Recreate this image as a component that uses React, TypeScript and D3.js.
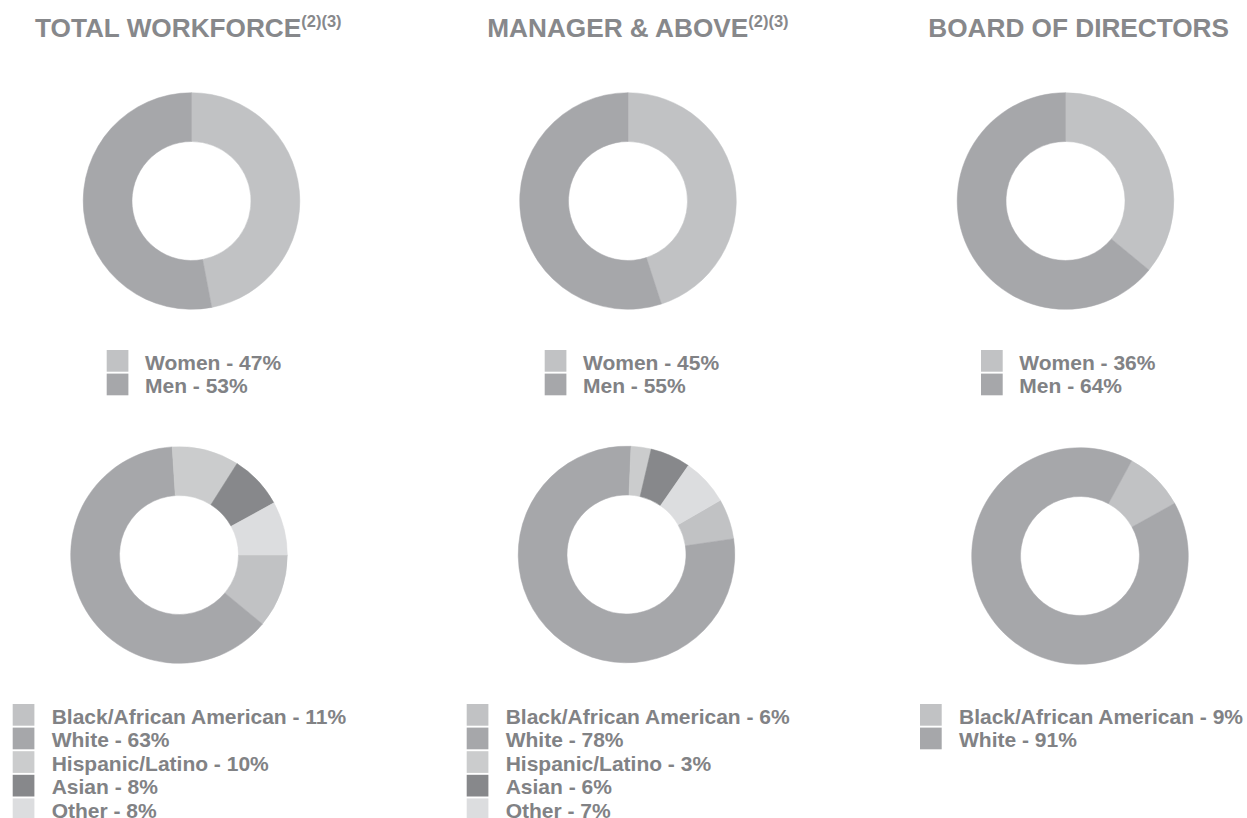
import React, { useEffect, useRef } from "react";
import * as d3 from "d3";

const W = 1247;
const H = 818;

// ---- data ----
const panelTitles = ["TOTAL WORKFORCE", "MANAGER & ABOVE", "BOARD OF DIRECTORS"];
const panelNotes = ["(2)(3)", "(2)(3)", ""];

const genderCategories = ["Women", "Men"];
const genderTotal = [47, 53];
const genderManager = [45, 55];
const genderBoard = [36, 64];

const raceCategories = ["Black/African American", "White", "Hispanic/Latino", "Asian", "Other"];
const raceTotal = [11, 63, 10, 8, 8];
const raceManager = [6, 78, 3, 6, 7];
const raceBoard = [9, 91];

// ---- styles ----
const genderColors = ["#c1c2c4", "#a6a7aa"];
const raceColors = ["#c1c2c4", "#a6a7aa", "#cbcccd", "#87888b", "#dcdddf"];
const TEXT = "#818285";
const TITLE = "#87888b";
const FONT = "'Liberation Sans', Arial, Helvetica, sans-serif";

const layout = [
  {
    titleX: 35,
    gender: { cx: 191.5, cy: 201, start: 0, sqX: 106.7, txX: 145 },
    race: { cx: 179, cy: 555, start: 90, sqX: 12.7, txX: 51.7 },
  },
  {
    titleX: 487.3,
    gender: { cx: 628, cy: 201, start: 0, sqX: 544.7, txX: 583 },
    race: { cx: 626.5, cy: 554.5, start: 60, sqX: 466.7, txX: 505.7 },
  },
  {
    titleX: 928.3,
    gender: { cx: 1065.5, cy: 201, start: 0, sqX: 981, txX: 1019.3 },
    race: { cx: 1080, cy: 556, start: 28.5, sqX: 920, txX: 959 },
  },
];

const genderSeries = [genderTotal, genderManager, genderBoard];
const raceSeries = [raceTotal, raceManager, raceBoard];

export default function App() {
  const ref = useRef<SVGSVGElement>(null);

  useEffect(() => {
    const svg = d3.select(ref.current);
    svg.selectAll("*").remove();
    svg.append("rect").attr("width", W).attr("height", H).attr("fill", "#fff");

    const outerR = 108.3;
    const innerR = 59.5;
    const arc = d3.arc<d3.PieArcDatum<number>>().innerRadius(innerR).outerRadius(outerR);

    const drawDonut = (values: number[], colors: string[], cx: number, cy: number, startDeg: number) => {
      const start = (startDeg * Math.PI) / 180;
      const pie = d3
        .pie<number>()
        .sort(null)
        .value((d) => d)
        .startAngle(start)
        .endAngle(start + 2 * Math.PI);
      const g = svg.append("g").attr("transform", `translate(${cx},${cy})`);
      g.selectAll("path")
        .data(pie(values))
        .enter()
        .append("path")
        .attr("d", arc as any)
        .attr("fill", (_d, i) => colors[i])
        .attr("stroke", (_d, i) => colors[i])
        .attr("stroke-width", 0.5);
    };

    const drawLegend = (
      cats: string[],
      values: number[],
      colors: string[],
      sqX: number,
      txX: number,
      top: number
    ) => {
      const pitch = 23.6;
      const sq = 21.7;
      const g = svg.append("g");
      values.forEach((v, i) => {
        const y = top + i * pitch;
        g.append("rect")
          .attr("x", sqX)
          .attr("y", y)
          .attr("width", sq)
          .attr("height", sq)
          .attr("fill", colors[i]);
        g.append("text")
          .attr("x", txX)
          .attr("y", y + 19.6)
          .attr("font-family", FONT)
          .attr("font-weight", "bold")
          .attr("font-size", 21)
          .attr("fill", TEXT)
          .text(`${cats[i]} - ${v}%`);
      });
    };

    layout.forEach((p, k) => {
      const t = svg
        .append("text")
        .attr("x", p.titleX)
        .attr("y", 37)
        .attr("font-family", FONT)
        .attr("font-weight", "bold")
        .attr("font-size", 26.2)
        .attr("fill", TITLE);
      t.append("tspan").text(panelTitles[k]);
      if (panelNotes[k]) {
        t.append("tspan")
          .attr("dy", -10)
          .attr("font-size", 16.5)
          .attr("font-weight", "bold")
          .text(panelNotes[k]);
      }

      drawDonut(genderSeries[k], genderColors, p.gender.cx, p.gender.cy, p.gender.start);
      drawLegend(genderCategories, genderSeries[k], genderColors, p.gender.sqX, p.gender.txX, 350);

      drawDonut(raceSeries[k], raceColors, p.race.cx, p.race.cy, p.race.start);
      drawLegend(raceCategories, raceSeries[k], raceColors, p.race.sqX, p.race.txX, 704);
    });
  }, []);

  return (
    <svg
      ref={ref}
      width={W}
      height={H}
      style={{ position: "absolute", left: 0, top: 0, display: "block" }}
    />
  );
}
